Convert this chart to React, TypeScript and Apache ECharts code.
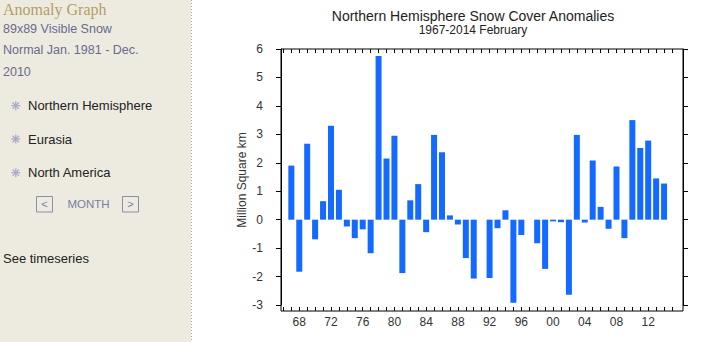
import React, { useEffect, useRef } from "react";
import * as echarts from "echarts";

const years = [
  1967, 1968, 1969, 1970, 1971, 1972, 1973, 1974, 1975, 1976, 1977, 1978,
  1979, 1980, 1981, 1982, 1983, 1984, 1985, 1986, 1987, 1988, 1989, 1990,
  1991, 1992, 1993, 1994, 1995, 1996, 1997, 1998, 1999, 2000, 2001, 2002,
  2003, 2004, 2005, 2006, 2007, 2008, 2009, 2010, 2011, 2012, 2013, 2014,
];
const anomalies = [
  1.9, -1.83, 2.67, -0.69, 0.65, 3.3, 1.05, -0.24, -0.65, -0.34, -1.18, 5.75,
  2.15, 2.95, -1.88, 0.68, 1.25, -0.44, 2.98, 2.37, 0.15, -0.17, -1.35, -2.07,
  0, -2.05, -0.3, 0.33, -2.92, -0.54, 0, -0.83, -1.73, -0.06, -0.09, -2.64,
  2.98, -0.1, 2.08, 0.45, -0.32, 1.87, -0.65, 3.5, 2.52, 2.78, 1.45, 1.27,
];
const yMin = -3;
const yMax = 6;
const xMin = 1966;
const xMax = 2015;

const titleText = "Northern Hemisphere Snow Cover Anomalies";
const subtitleText = "1967-2014 February";
const yAxisTitle = "Million Square km";

const sidebarInfo = ["89x89 Visible Snow", "Normal Jan. 1981 - Dec.", "2010"];
const sidebarNav = ["Northern Hemisphere", "Eurasia", "North America"];

const SANS = "'Liberation Sans', Arial, sans-serif";

function star(cx: number, cy: number) {
  const r = 4.5;
  const children: any[] = [];
  for (let i = 0; i < 4; i++) {
    const a = (i * Math.PI) / 4;
    children.push({
      type: "line",
      shape: {
        x1: cx - r * Math.cos(a),
        y1: cy - r * Math.sin(a),
        x2: cx + r * Math.cos(a),
        y2: cy + r * Math.sin(a),
      },
      style: { stroke: "#A9A9CF", lineWidth: 1.3 },
    });
  }
  return { type: "group", children };
}

export default function App() {
  const ref = useRef<HTMLDivElement>(null);
  useEffect(() => {
    if (!ref.current) return;
    const chart = echarts.init(ref.current, undefined, { renderer: "svg" });

    const infoY = [29, 50, 71.5];
    const navY = [105.7, 139, 172.7];

    const graphics: any[] = [
      { type: "rect", shape: { x: 0, y: 0, width: 191, height: 342 }, style: { fill: "#EDEBDF" }, z: -10 },
      { type: "line", shape: { x1: 191.5, y1: 0, x2: 191.5, y2: 342 }, style: { stroke: "#A8A8A0", lineWidth: 1, lineDash: [1, 2] } },
      { type: "text", x: 3, y: 9, style: { text: "Anomaly Graph", font: "16px 'Liberation Serif', Georgia, serif", fill: "#B49C6C", verticalAlign: "middle" } },
      ...sidebarInfo.map((t, i) => ({
        type: "text", x: 3, y: infoY[i],
        style: { text: t, font: `12.5px ${SANS}`, fill: "#6A6A8E", verticalAlign: "middle" },
      })),
      ...sidebarNav.map((t, i) => ({
        type: "text", x: 28, y: navY[i],
        style: { text: t, font: `13px ${SANS}`, fill: "#222", verticalAlign: "middle" },
      })),
      ...navY.map((y) => star(15.8, y)),
      { type: "rect", shape: { x: 36.5, y: 196.5, width: 16, height: 15.5 }, style: { fill: "none", stroke: "#8C8CAC", lineWidth: 1 } },
      { type: "text", x: 44.5, y: 204.2, style: { text: "<", font: `11px ${SANS}`, fill: "#7C7CA4", align: "center", verticalAlign: "middle" } },
      { type: "text", x: 88.5, y: 204.2, style: { text: "MONTH", font: `11.5px ${SANS}`, fill: "#7C7CA4", align: "center", verticalAlign: "middle" } },
      { type: "rect", shape: { x: 122.5, y: 196.5, width: 16, height: 15.5 }, style: { fill: "none", stroke: "#8C8CAC", lineWidth: 1 } },
      { type: "text", x: 130.5, y: 204.2, style: { text: ">", font: `11px ${SANS}`, fill: "#7C7CA4", align: "center", verticalAlign: "middle" } },
      { type: "text", x: 3, y: 258, style: { text: "See timeseries", font: `13px ${SANS}`, fill: "#222", verticalAlign: "middle" } },
      { type: "text", x: 473, y: 16, style: { text: titleText, font: `14px ${SANS}`, fill: "#222", align: "center", verticalAlign: "middle" } },
      { type: "text", x: 473, y: 30, style: { text: subtitleText, font: `12px ${SANS}`, fill: "#222", align: "center", verticalAlign: "middle" } },
      { type: "text", x: 242, y: 180, rotation: Math.PI / 2, style: { text: yAxisTitle, font: `12px ${SANS}`, fill: "#333", align: "center", verticalAlign: "middle" } },
    ];

    const yTickAxis = {
      type: "value", gridIndex: 1, min: yMin, max: yMax, interval: 1,
      axisLine: { show: true, onZero: false, lineStyle: { color: "#000", width: 1 } },
      axisTick: { show: true, inside: false, length: 5, lineStyle: { color: "#000" } },
      splitLine: { show: false },
    };

    chart.setOption({
      animation: false,
      backgroundColor: "#fff",
      grid: [
        { left: 281, top: 49, width: 402, height: 262, show: true, borderColor: "#000", borderWidth: 1, backgroundColor: "transparent" },
        { left: 281, top: 49, width: 402, height: 256 },
        { left: 283.4, top: 49, width: 388.6, height: 256 },
      ],
      xAxis: [
        { type: "value", gridIndex: 0, show: false, min: 0, max: 1 },
        { type: "value", gridIndex: 1, show: false, min: 0, max: 1 },
        {
          type: "value", gridIndex: 2, min: xMin, max: xMax, interval: 1, position: "bottom", offset: 6,
          axisLine: { show: false, onZero: false },
          axisTick: { show: true, inside: true, length: 4, lineStyle: { color: "#000" } },
          axisLabel: {
            margin: 5, color: "#333", fontSize: 12, fontFamily: SANS,
            formatter: (v: number) => (v % 4 === 0 ? String(v).slice(2) : ""),
          },
          splitLine: { show: false },
        },
        {
          type: "value", gridIndex: 2, min: xMin, max: xMax, interval: 1, position: "top",
          axisLine: { show: false, onZero: false },
          axisTick: { show: true, inside: true, length: 4, lineStyle: { color: "#000" } },
          axisLabel: { show: false },
          splitLine: { show: false },
        },
      ],
      yAxis: [
        { type: "value", gridIndex: 0, show: false, min: 0, max: 1 },
        {
          ...yTickAxis, position: "left",
          axisLabel: { margin: 18, color: "#333", fontSize: 12, fontFamily: SANS },
        },
        { ...yTickAxis, position: "right", axisLabel: { show: false } },
        { type: "value", gridIndex: 2, min: yMin, max: yMax, show: false },
      ],
      series: [
        {
          type: "bar", xAxisIndex: 2, yAxisIndex: 3, barWidth: 6,
          itemStyle: { color: "#1469FF" },
          data: years.map((y, i) => [y, anomalies[i]]),
        },
      ],
      graphic: graphics,
    });
    return () => chart.dispose();
  }, []);
  return (
    <div style={{ position: "fixed", left: 0, top: 0, width: 715, height: 342, background: "#fff" }}>
      <div ref={ref} style={{ width: 715, height: 342 }} />
    </div>
  );
}
